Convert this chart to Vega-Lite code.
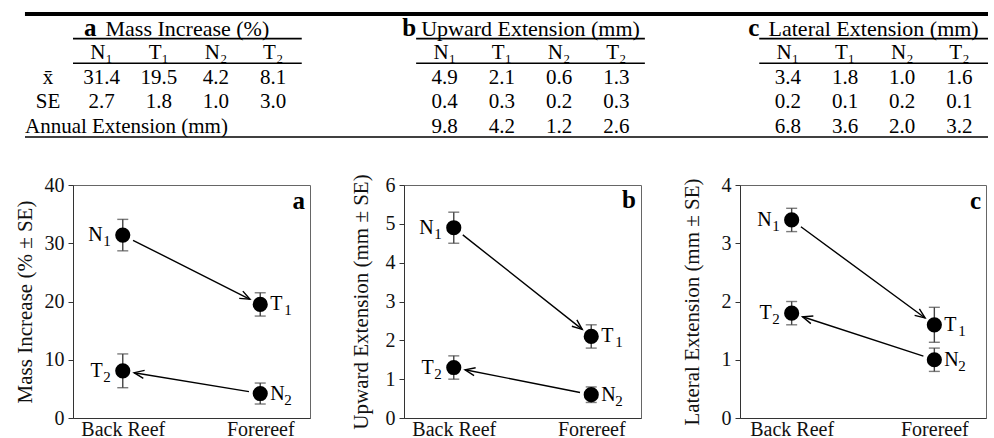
{
  "$schema": "https://vega.github.io/schema/vega-lite/v6.json",
  "padding": {"left": 13, "top": 12, "right": 0, "bottom": 0},
  "spacing": 35,
  "config": {
    "font": "Liberation Serif",
    "view": {"stroke": "#666", "strokeWidth": 1},
    "axis": {"grid": false, "labelColor": "#111", "titleColor": "#111", "domainColor": "#333", "tickColor": "#333", "labelFontSize": 20, "titleFontSize": 21, "titleFontWeight": "normal"},
    "text": {"color": "#000"}
  },
  "datasets": {
    "cells": [
      {"measure": "a", "trt": "N₁", "col": "aN1", "mean": 31.4, "se": 2.7, "annual": null},
      {"measure": "a", "trt": "T₁", "col": "aT1", "mean": 19.5, "se": 1.8, "annual": null},
      {"measure": "a", "trt": "N₂", "col": "aN2", "mean": 4.2, "se": 1.0, "annual": null},
      {"measure": "a", "trt": "T₂", "col": "aT2", "mean": 8.1, "se": 3.0, "annual": null},
      {"measure": "b", "trt": "N₁", "col": "bN1", "mean": 4.9, "se": 0.4, "annual": 9.8},
      {"measure": "b", "trt": "T₁", "col": "bT1", "mean": 2.1, "se": 0.3, "annual": 4.2},
      {"measure": "b", "trt": "N₂", "col": "bN2", "mean": 0.6, "se": 0.2, "annual": 1.2},
      {"measure": "b", "trt": "T₂", "col": "bT2", "mean": 1.3, "se": 0.3, "annual": 2.6},
      {"measure": "c", "trt": "N₁", "col": "cN1", "mean": 3.4, "se": 0.2, "annual": 6.8},
      {"measure": "c", "trt": "T₁", "col": "cT1", "mean": 1.8, "se": 0.1, "annual": 3.6},
      {"measure": "c", "trt": "N₂", "col": "cN2", "mean": 1.0, "se": 0.2, "annual": 2.0},
      {"measure": "c", "trt": "T₂", "col": "cT2", "mean": 1.6, "se": 0.1, "annual": 3.2}
    ],
    "headers": [
      {"measure": "a", "first": "aN1", "centre": "aT1", "last": "aT2", "title": "Mass Increase (%)"},
      {"measure": "b", "first": "bN1", "centre": "bT1", "last": "bT2", "title": "Upward Extension (mm)"},
      {"measure": "c", "first": "cN1", "centre": "cT1", "last": "cT2", "title": "Lateral Extension (mm)"}
    ],
    "rowlabels": [
      {"row": "mean", "label": "x̄"},
      {"row": "se", "label": "SE"},
      {"row": "annual", "label": "Annual Extension (mm)"}
    ],
    "points": [
      {"panel": "a", "site": "Back Reef", "trt": "N₁", "letter": "N", "sub": "1", "mean": 31.4, "se": 2.7},
      {"panel": "a", "site": "Forereef", "trt": "T₁", "letter": "T", "sub": "1", "mean": 19.5, "se": 2.0},
      {"panel": "a", "site": "Forereef", "trt": "N₂", "letter": "N", "sub": "2", "mean": 4.2, "se": 1.8},
      {"panel": "a", "site": "Back Reef", "trt": "T₂", "letter": "T", "sub": "2", "mean": 8.1, "se": 2.9},
      {"panel": "b", "site": "Back Reef", "trt": "N₁", "letter": "N", "sub": "1", "mean": 4.9, "se": 0.4},
      {"panel": "b", "site": "Forereef", "trt": "T₁", "letter": "T", "sub": "1", "mean": 2.1, "se": 0.3},
      {"panel": "b", "site": "Forereef", "trt": "N₂", "letter": "N", "sub": "2", "mean": 0.6, "se": 0.2},
      {"panel": "b", "site": "Back Reef", "trt": "T₂", "letter": "T", "sub": "2", "mean": 1.3, "se": 0.3},
      {"panel": "c", "site": "Back Reef", "trt": "N₁", "letter": "N", "sub": "1", "mean": 3.4, "se": 0.2},
      {"panel": "c", "site": "Forereef", "trt": "T₁", "letter": "T", "sub": "1", "mean": 1.6, "se": 0.3},
      {"panel": "c", "site": "Forereef", "trt": "N₂", "letter": "N", "sub": "2", "mean": 1.0, "se": 0.2},
      {"panel": "c", "site": "Back Reef", "trt": "T₂", "letter": "T", "sub": "2", "mean": 1.8, "se": 0.2}
    ]
  },
  "vconcat": [
    {
      "width": 915,
      "height": 123,
      "view": {"stroke": null},
      "layer": [
        {
          "data": {"values": [{}]},
          "mark": {"type": "rule", "strokeWidth": 4, "color": "#000"},
          "encoding": {
            "x": {"datum": "aN1", "type": "nominal", "bandPosition": -0.84, "axis": null, "scale": {"type": "band", "domain": ["aN1","aT1","aN2","aT2","g1","g2","bN1","bT1","bN2","bT2","g3","g4","cN1","cT1","cN2","cT2"], "paddingInner": 0, "paddingOuter": 0}},
            "x2": {"datum": "cT2", "bandPosition": 1},
            "y": {"datum": "title", "type": "nominal", "bandPosition": 0, "axis": null, "scale": {"type": "band", "domain": ["title","hdr","mean","se","annual"], "paddingInner": 0, "paddingOuter": 0}}
          }
        },
        {
          "data": {"values": [{}]},
          "mark": {"type": "rule", "strokeWidth": 1.3, "color": "#000"},
          "encoding": {
            "x": {"datum": "aN1", "type": "nominal", "bandPosition": -0.84, "axis": null, "scale": {"type": "band", "domain": ["aN1","aT1","aN2","aT2","g1","g2","bN1","bT1","bN2","bT2","g3","g4","cN1","cT1","cN2","cT2"], "paddingInner": 0, "paddingOuter": 0}},
            "x2": {"datum": "cT2", "bandPosition": 1},
            "y": {"datum": "annual", "type": "nominal", "bandPosition": 1, "axis": null, "scale": {"type": "band", "domain": ["title","hdr","mean","se","annual"], "paddingInner": 0, "paddingOuter": 0}}
          }
        },
        {
          "data": {"name": "headers"},
          "mark": {"type": "rule", "strokeWidth": 1.6, "color": "#000"},
          "encoding": {
            "x": {"field": "first", "type": "nominal", "bandPosition": 0, "axis": null, "scale": {"type": "band", "domain": ["aN1","aT1","aN2","aT2","g1","g2","bN1","bT1","bN2","bT2","g3","g4","cN1","cT1","cN2","cT2"], "paddingInner": 0, "paddingOuter": 0}},
            "x2": {"field": "last", "bandPosition": 1},
            "y": {"datum": "title", "type": "nominal", "bandPosition": 1, "axis": null, "scale": {"type": "band", "domain": ["title","hdr","mean","se","annual"], "paddingInner": 0, "paddingOuter": 0}}
          }
        },
        {
          "data": {"name": "headers"},
          "mark": {"type": "rule", "strokeWidth": 1.6, "color": "#000"},
          "encoding": {
            "x": {"field": "first", "type": "nominal", "bandPosition": 0, "axis": null, "scale": {"type": "band", "domain": ["aN1","aT1","aN2","aT2","g1","g2","bN1","bT1","bN2","bT2","g3","g4","cN1","cT1","cN2","cT2"], "paddingInner": 0, "paddingOuter": 0}},
            "x2": {"field": "last", "bandPosition": 1},
            "y": {"datum": "hdr", "type": "nominal", "bandPosition": 1, "axis": null, "scale": {"type": "band", "domain": ["title","hdr","mean","se","annual"], "paddingInner": 0, "paddingOuter": 0}}
          }
        },
        {
          "data": {"name": "headers"},
          "transform": [{"filter": "datum.measure === 'a'"}],
          "mark": {"type": "text", "fontWeight": "bold", "fontSize": 25, "align": "center", "baseline": "alphabetic", "dy": -3},
          "encoding": {
            "x": {"field": "first", "type": "nominal", "bandPosition": 0.3, "axis": null, "scale": {"type": "band", "domain": ["aN1","aT1","aN2","aT2","g1","g2","bN1","bT1","bN2","bT2","g3","g4","cN1","cT1","cN2","cT2"], "paddingInner": 0, "paddingOuter": 0}},
            "y": {"datum": "title", "type": "nominal", "bandPosition": 1, "axis": null, "scale": {"type": "band", "domain": ["title","hdr","mean","se","annual"], "paddingInner": 0, "paddingOuter": 0}},
            "text": {"field": "measure"}
          }
        },
        {
          "data": {"name": "headers"},
          "transform": [{"filter": "datum.measure !== 'a'"}],
          "mark": {"type": "text", "fontWeight": "bold", "fontSize": 25, "align": "right", "baseline": "alphabetic", "dy": -3},
          "encoding": {
            "x": {"field": "first", "type": "nominal", "bandPosition": 0, "axis": null, "scale": {"type": "band", "domain": ["aN1","aT1","aN2","aT2","g1","g2","bN1","bT1","bN2","bT2","g3","g4","cN1","cT1","cN2","cT2"], "paddingInner": 0, "paddingOuter": 0}},
            "y": {"datum": "title", "type": "nominal", "bandPosition": 1, "axis": null, "scale": {"type": "band", "domain": ["title","hdr","mean","se","annual"], "paddingInner": 0, "paddingOuter": 0}},
            "text": {"field": "measure"}
          }
        },
        {
          "data": {"name": "headers"},
          "mark": {"type": "text", "fontSize": 22, "align": "center", "baseline": "alphabetic", "dy": -3},
          "encoding": {
            "x": {"field": "centre", "type": "nominal", "bandPosition": 1, "axis": null, "scale": {"type": "band", "domain": ["aN1","aT1","aN2","aT2","g1","g2","bN1","bT1","bN2","bT2","g3","g4","cN1","cT1","cN2","cT2"], "paddingInner": 0, "paddingOuter": 0}},
            "y": {"datum": "title", "type": "nominal", "bandPosition": 1, "axis": null, "scale": {"type": "band", "domain": ["title","hdr","mean","se","annual"], "paddingInner": 0, "paddingOuter": 0}},
            "text": {"field": "title"}
          }
        },
        {
          "data": {"name": "cells"},
          "mark": {"type": "text", "fontSize": 21, "align": "center", "baseline": "alphabetic", "dy": -4},
          "encoding": {
            "x": {"field": "col", "type": "nominal", "axis": null, "scale": {"type": "band", "domain": ["aN1","aT1","aN2","aT2","g1","g2","bN1","bT1","bN2","bT2","g3","g4","cN1","cT1","cN2","cT2"], "paddingInner": 0, "paddingOuter": 0}},
            "y": {"datum": "hdr", "type": "nominal", "bandPosition": 1, "axis": null, "scale": {"type": "band", "domain": ["title","hdr","mean","se","annual"], "paddingInner": 0, "paddingOuter": 0}},
            "text": {"field": "trt"}
          }
        },
        {
          "data": {"name": "cells"},
          "mark": {"type": "text", "fontSize": 21, "align": "center", "baseline": "alphabetic", "dy": -4},
          "encoding": {
            "x": {"field": "col", "type": "nominal", "axis": null, "scale": {"type": "band", "domain": ["aN1","aT1","aN2","aT2","g1","g2","bN1","bT1","bN2","bT2","g3","g4","cN1","cT1","cN2","cT2"], "paddingInner": 0, "paddingOuter": 0}},
            "y": {"datum": "mean", "type": "nominal", "bandPosition": 1, "axis": null, "scale": {"type": "band", "domain": ["title","hdr","mean","se","annual"], "paddingInner": 0, "paddingOuter": 0}},
            "text": {"field": "mean", "type": "quantitative", "format": ".1f"}
          }
        },
        {
          "data": {"name": "cells"},
          "mark": {"type": "text", "fontSize": 21, "align": "center", "baseline": "alphabetic", "dy": -4},
          "encoding": {
            "x": {"field": "col", "type": "nominal", "axis": null, "scale": {"type": "band", "domain": ["aN1","aT1","aN2","aT2","g1","g2","bN1","bT1","bN2","bT2","g3","g4","cN1","cT1","cN2","cT2"], "paddingInner": 0, "paddingOuter": 0}},
            "y": {"datum": "se", "type": "nominal", "bandPosition": 1, "axis": null, "scale": {"type": "band", "domain": ["title","hdr","mean","se","annual"], "paddingInner": 0, "paddingOuter": 0}},
            "text": {"field": "se", "type": "quantitative", "format": ".1f"}
          }
        },
        {
          "data": {"name": "cells"},
          "transform": [{"filter": "datum.annual != null"}],
          "mark": {"type": "text", "fontSize": 21, "align": "center", "baseline": "alphabetic", "dy": -4},
          "encoding": {
            "x": {"field": "col", "type": "nominal", "axis": null, "scale": {"type": "band", "domain": ["aN1","aT1","aN2","aT2","g1","g2","bN1","bT1","bN2","bT2","g3","g4","cN1","cT1","cN2","cT2"], "paddingInner": 0, "paddingOuter": 0}},
            "y": {"datum": "annual", "type": "nominal", "bandPosition": 1, "axis": null, "scale": {"type": "band", "domain": ["title","hdr","mean","se","annual"], "paddingInner": 0, "paddingOuter": 0}},
            "text": {"field": "annual", "type": "quantitative", "format": ".1f"}
          }
        },
        {
          "data": {"name": "rowlabels"},
          "transform": [{"filter": "datum.row !== 'annual'"}],
          "mark": {"type": "text", "fontSize": 21, "align": "center", "baseline": "alphabetic", "dy": -4},
          "encoding": {
            "x": {"datum": "aN1", "type": "nominal", "bandPosition": -0.437, "axis": null, "scale": {"type": "band", "domain": ["aN1","aT1","aN2","aT2","g1","g2","bN1","bT1","bN2","bT2","g3","g4","cN1","cT1","cN2","cT2"], "paddingInner": 0, "paddingOuter": 0}},
            "y": {"field": "row", "type": "nominal", "bandPosition": 1, "axis": null, "scale": {"type": "band", "domain": ["title","hdr","mean","se","annual"], "paddingInner": 0, "paddingOuter": 0}},
            "text": {"field": "label"}
          }
        },
        {
          "data": {"name": "rowlabels"},
          "transform": [{"filter": "datum.row === 'annual'"}],
          "mark": {"type": "text", "fontSize": 21, "align": "left", "baseline": "alphabetic", "dy": -4},
          "encoding": {
            "x": {"datum": "aN1", "type": "nominal", "bandPosition": -0.84, "axis": null, "scale": {"type": "band", "domain": ["aN1","aT1","aN2","aT2","g1","g2","bN1","bT1","bN2","bT2","g3","g4","cN1","cT1","cN2","cT2"], "paddingInner": 0, "paddingOuter": 0}},
            "y": {"field": "row", "type": "nominal", "bandPosition": 1, "axis": null, "scale": {"type": "band", "domain": ["title","hdr","mean","se","annual"], "paddingInner": 0, "paddingOuter": 0}},
            "text": {"field": "label"}
          }
        }
      ]
    },
    {
      "spacing": 38,
      "hconcat": [
        {
          "width": 237,
          "height": 233,
          "data": {"name": "points"},
          "transform": [{"filter": "datum.panel === 'a'"}],
          "title": {"text": "a", "anchor": "end", "frame": "group", "offset": -59, "dx": -5, "fontSize": 25, "fontWeight": "bold", "baseline": "alphabetic", "color": "#000"},
          "encoding": {
            "x": {"field": "site", "type": "nominal", "scale": {"type": "point", "domain": ["Back Reef", "Forereef"], "padding": 0.362}, "axis": {"title": null, "labelAngle": 0, "ticks": false, "labelPadding": 1}},
            "y": {"field": "mean", "type": "quantitative", "scale": {"domain": [0, 40], "nice": false}, "axis": {"title": "Mass Increase (% ± SE)", "values": [0, 10, 20, 30, 40], "tickSize": 5, "labelPadding": 4, "titlePadding": 9}}
          },
          "layer": [
            {"transform": [{"filter": "datum.trt === 'N₁' || datum.trt === 'T₁'"}], "mark": {"type": "line", "color": "#000", "strokeWidth": 1.4, "strokeDash": [0, 11.5, 131, 1000]}, "encoding": {}},
            {"transform": [{"filter": "datum.trt === 'T₁'"}], "mark": {"type": "point", "shape": "M-1.87,-0.35L-1,0L-1.87,0.35", "filled": false, "stroke": "#000", "strokeWidth": 1.4, "opacity": 1, "size": 529, "angle": 26.75}},
            {"transform": [{"filter": "datum.trt === 'N₂' || datum.trt === 'T₂'"}], "mark": {"type": "line", "color": "#000", "strokeWidth": 1.4, "strokeDash": [0, 11.5, 116.4, 1000]}, "encoding": {}},
            {"transform": [{"filter": "datum.trt === 'T₂'"}], "mark": {"type": "point", "shape": "M-1.87,-0.35L-1,0L-1.87,0.35", "filled": false, "stroke": "#000", "strokeWidth": 1.4, "opacity": 1, "size": 529, "angle": 189.37}},
            {"mark": {"type": "errorbar", "ticks": true, "size": 11, "thickness": 1.4, "color": "#444"}, "encoding": {"yError": {"field": "se"}}},
            {"mark": {"type": "circle", "size": 230, "color": "#000", "opacity": 1}},
            {"transform": [{"filter": "datum.site === 'Back Reef'"}], "mark": {"type": "text", "align": "right", "baseline": "alphabetic", "dx": -20, "dy": 6, "fontSize": 20}, "encoding": {"text": {"field": "letter"}}},
            {"transform": [{"filter": "datum.site === 'Back Reef'"}], "mark": {"type": "text", "align": "right", "baseline": "alphabetic", "dx": -12, "dy": 11, "fontSize": 15}, "encoding": {"text": {"field": "sub"}}},
            {"transform": [{"filter": "datum.site === 'Forereef'"}], "mark": {"type": "text", "align": "left", "baseline": "alphabetic", "dx": 10, "dy": 6, "fontSize": 20}, "encoding": {"text": {"field": "letter"}}},
            {"transform": [{"filter": "datum.site === 'Forereef'"}], "mark": {"type": "text", "align": "left", "baseline": "alphabetic", "dx": 24, "dy": 11, "fontSize": 15}, "encoding": {"text": {"field": "sub"}}}
          ]
        },
        {
          "width": 237,
          "height": 233,
          "data": {"name": "points"},
          "transform": [{"filter": "datum.panel === 'b'"}],
          "title": {"text": "b", "anchor": "end", "frame": "group", "offset": -59, "dx": -5, "fontSize": 25, "fontWeight": "bold", "baseline": "alphabetic", "color": "#000"},
          "encoding": {
            "x": {"field": "site", "type": "nominal", "scale": {"type": "point", "domain": ["Back Reef", "Forereef"], "padding": 0.362}, "axis": {"title": null, "labelAngle": 0, "ticks": false, "labelPadding": 1}},
            "y": {"field": "mean", "type": "quantitative", "scale": {"domain": [0, 6], "nice": false}, "axis": {"title": "Upward Extension (mm ± SE)", "values": [0, 1, 2, 3, 4, 5, 6], "tickSize": 5, "labelPadding": 4, "titlePadding": 14}}
          },
          "layer": [
            {"transform": [{"filter": "datum.trt === 'N₁' || datum.trt === 'T₁'"}], "mark": {"type": "line", "color": "#000", "strokeWidth": 1.4, "strokeDash": [0, 11.5, 152.3, 1000]}, "encoding": {}},
            {"transform": [{"filter": "datum.trt === 'T₁'"}], "mark": {"type": "point", "shape": "M-1.87,-0.35L-1,0L-1.87,0.35", "filled": false, "stroke": "#000", "strokeWidth": 1.4, "opacity": 1, "size": 529, "angle": 38.33}},
            {"transform": [{"filter": "datum.trt === 'N₂' || datum.trt === 'T₂'"}], "mark": {"type": "line", "color": "#000", "strokeWidth": 1.4, "strokeDash": [0, 11.5, 117.2, 1000]}, "encoding": {}},
            {"transform": [{"filter": "datum.trt === 'T₂'"}], "mark": {"type": "point", "shape": "M-1.87,-0.35L-1,0L-1.87,0.35", "filled": false, "stroke": "#000", "strokeWidth": 1.4, "opacity": 1, "size": 529, "angle": 191.19}},
            {"mark": {"type": "errorbar", "ticks": true, "size": 11, "thickness": 1.4, "color": "#444"}, "encoding": {"yError": {"field": "se"}}},
            {"mark": {"type": "circle", "size": 230, "color": "#000", "opacity": 1}},
            {"transform": [{"filter": "datum.site === 'Back Reef'"}], "mark": {"type": "text", "align": "right", "baseline": "alphabetic", "dx": -20, "dy": 6, "fontSize": 20}, "encoding": {"text": {"field": "letter"}}},
            {"transform": [{"filter": "datum.site === 'Back Reef'"}], "mark": {"type": "text", "align": "right", "baseline": "alphabetic", "dx": -12, "dy": 11, "fontSize": 15}, "encoding": {"text": {"field": "sub"}}},
            {"transform": [{"filter": "datum.site === 'Forereef'"}], "mark": {"type": "text", "align": "left", "baseline": "alphabetic", "dx": 10, "dy": 6, "fontSize": 20}, "encoding": {"text": {"field": "letter"}}},
            {"transform": [{"filter": "datum.site === 'Forereef'"}], "mark": {"type": "text", "align": "left", "baseline": "alphabetic", "dx": 24, "dy": 11, "fontSize": 15}, "encoding": {"text": {"field": "sub"}}}
          ]
        },
        {
          "width": 246,
          "height": 233,
          "data": {"name": "points"},
          "transform": [{"filter": "datum.panel === 'c'"}],
          "title": {"text": "c", "anchor": "end", "frame": "group", "offset": -59, "dx": -5, "fontSize": 25, "fontWeight": "bold", "baseline": "alphabetic", "color": "#000"},
          "encoding": {
            "x": {"field": "site", "type": "nominal", "scale": {"type": "point", "domain": ["Back Reef", "Forereef"], "padding": 0.362}, "axis": {"title": null, "labelAngle": 0, "ticks": false, "labelPadding": 1}},
            "y": {"field": "mean", "type": "quantitative", "scale": {"domain": [0, 4], "nice": false}, "axis": {"title": "Lateral Extension (mm ± SE)", "values": [0, 1, 2, 3, 4], "tickSize": 5, "labelPadding": 4, "titlePadding": 19}}
          },
          "layer": [
            {"transform": [{"filter": "datum.trt === 'N₁' || datum.trt === 'T₁'"}], "mark": {"type": "line", "color": "#000", "strokeWidth": 1.4, "strokeDash": [0, 11.5, 154.1, 1000]}, "encoding": {}},
            {"transform": [{"filter": "datum.trt === 'T₁'"}], "mark": {"type": "point", "shape": "M-1.87,-0.35L-1,0L-1.87,0.35", "filled": false, "stroke": "#000", "strokeWidth": 1.4, "opacity": 1, "size": 529, "angle": 36.3}},
            {"transform": [{"filter": "datum.trt === 'N₂' || datum.trt === 'T₂'"}], "mark": {"type": "line", "color": "#000", "strokeWidth": 1.4, "strokeDash": [0, 11.5, 127.1, 1000]}, "encoding": {}},
            {"transform": [{"filter": "datum.trt === 'T₂'"}], "mark": {"type": "point", "shape": "M-1.87,-0.35L-1,0L-1.87,0.35", "filled": false, "stroke": "#000", "strokeWidth": 1.4, "opacity": 1, "size": 529, "angle": 198.08}},
            {"mark": {"type": "errorbar", "ticks": true, "size": 11, "thickness": 1.4, "color": "#444"}, "encoding": {"yError": {"field": "se"}}},
            {"mark": {"type": "circle", "size": 230, "color": "#000", "opacity": 1}},
            {"transform": [{"filter": "datum.site === 'Back Reef'"}], "mark": {"type": "text", "align": "right", "baseline": "alphabetic", "dx": -20, "dy": 6, "fontSize": 20}, "encoding": {"text": {"field": "letter"}}},
            {"transform": [{"filter": "datum.site === 'Back Reef'"}], "mark": {"type": "text", "align": "right", "baseline": "alphabetic", "dx": -12, "dy": 11, "fontSize": 15}, "encoding": {"text": {"field": "sub"}}},
            {"transform": [{"filter": "datum.site === 'Forereef'"}], "mark": {"type": "text", "align": "left", "baseline": "alphabetic", "dx": 10, "dy": 6, "fontSize": 20}, "encoding": {"text": {"field": "letter"}}},
            {"transform": [{"filter": "datum.site === 'Forereef'"}], "mark": {"type": "text", "align": "left", "baseline": "alphabetic", "dx": 24, "dy": 11, "fontSize": 15}, "encoding": {"text": {"field": "sub"}}}
          ]
        }
      ]
    }
  ]
}
